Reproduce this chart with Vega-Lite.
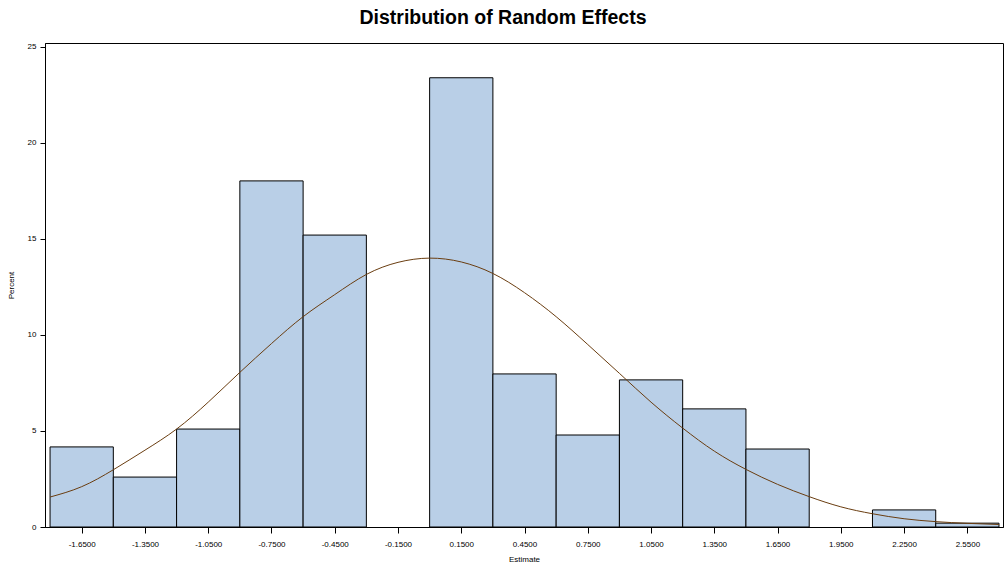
{
  "$schema": "https://vega.github.io/schema/vega-lite/v6.json",
  "autosize": {"type": "none"},
  "width": 958,
  "height": 484,
  "padding": {"left": 45, "top": 43, "right": 5, "bottom": 44},
  "background": "white",
  "config": {
    "view": {"stroke": "black", "strokeWidth": 1},
    "font": "Liberation Sans"
  },
  "title": {
    "text": "Distribution of Random Effects",
    "font": "Liberation Sans",
    "fontSize": 19.5,
    "fontWeight": "bold",
    "color": "black",
    "offset": 14,
    "dx": -21
  },
  "datasets": {
    "bins": [
      {"start": -1.8, "end": -1.5, "percent": 4.17},
      {"start": -1.5, "end": -1.2, "percent": 2.6},
      {"start": -1.2, "end": -0.9, "percent": 5.1},
      {"start": -0.9, "end": -0.6, "percent": 18.02},
      {"start": -0.6, "end": -0.3, "percent": 15.2},
      {"start": 0.0, "end": 0.3, "percent": 23.39},
      {"start": 0.3, "end": 0.6, "percent": 7.97},
      {"start": 0.6, "end": 0.9, "percent": 4.79},
      {"start": 0.9, "end": 1.2, "percent": 7.66},
      {"start": 1.2, "end": 1.5, "percent": 6.15},
      {"start": 1.5, "end": 1.8, "percent": 4.06},
      {"start": 2.1, "end": 2.4, "percent": 0.89},
      {"start": 2.4, "end": 2.7, "percent": 0.2}
    ],
    "curve": [
      {"x": -1.8, "y": 1.56},
      {"x": -1.65, "y": 2.1},
      {"x": -1.5, "y": 2.98},
      {"x": -1.35, "y": 4.0},
      {"x": -1.2, "y": 5.1},
      {"x": -1.05, "y": 6.5},
      {"x": -0.9, "y": 8.05},
      {"x": -0.75, "y": 9.55},
      {"x": -0.6, "y": 10.95},
      {"x": -0.45, "y": 12.1},
      {"x": -0.3, "y": 13.15},
      {"x": -0.15, "y": 13.78},
      {"x": 0.0, "y": 14.0},
      {"x": 0.15, "y": 13.8},
      {"x": 0.3, "y": 13.2},
      {"x": 0.45, "y": 12.2},
      {"x": 0.6, "y": 10.95},
      {"x": 0.75, "y": 9.5},
      {"x": 0.9, "y": 8.0},
      {"x": 1.05, "y": 6.5},
      {"x": 1.2, "y": 5.15},
      {"x": 1.35, "y": 3.95},
      {"x": 1.5, "y": 3.0},
      {"x": 1.65, "y": 2.22},
      {"x": 1.8, "y": 1.58},
      {"x": 1.95, "y": 1.05},
      {"x": 2.1, "y": 0.69},
      {"x": 2.25, "y": 0.43},
      {"x": 2.4, "y": 0.28},
      {"x": 2.55, "y": 0.19},
      {"x": 2.7, "y": 0.13}
    ]
  },
  "layer": [
    {
      "data": {"name": "bins"},
      "mark": {"type": "rect", "fill": "#B9CFE7", "stroke": "black", "strokeWidth": 1},
      "encoding": {
        "x": {
          "field": "start",
          "type": "quantitative",
          "scale": {"domain": [-1.824, 2.719], "nice": false, "zero": false},
          "axis": {
            "title": "Estimate",
            "values": [-1.65, -1.35, -1.05, -0.75, -0.45, -0.15, 0.15, 0.45, 0.75, 1.05, 1.35, 1.65, 1.95, 2.25, 2.55],
            "format": ".4f",
            "labelExpr": "replace(datum.label, '\u2212', '-')",
            "labelFont": "Liberation Sans",
            "labelFontSize": 8,
            "labelColor": "black",
            "labelPadding": 7,
            "titleFont": "Liberation Sans",
            "titleFontSize": 8,
            "titleFontWeight": "normal",
            "titleColor": "black",
            "titlePadding": 7,
            "tickColor": "black",
            "tickSize": 6,
            "domainColor": "black",
            "grid": false
          }
        },
        "x2": {"field": "end"},
        "y": {
          "field": "percent",
          "type": "quantitative",
          "scale": {"domain": [0, 25.2], "nice": false},
          "axis": {
            "title": "Percent",
            "values": [0, 5, 10, 15, 20, 25],
            "labelFont": "Liberation Sans",
            "labelFontSize": 8,
            "labelColor": "black",
            "labelPadding": 4,
            "titleFont": "Liberation Sans",
            "titleFontSize": 8,
            "titleFontWeight": "normal",
            "titleColor": "black",
            "titlePadding": 12,
            "tickColor": "black",
            "tickSize": 5,
            "domainColor": "black",
            "grid": false
          }
        },
        "y2": {"datum": 0}
      }
    },
    {
      "data": {"name": "curve"},
      "mark": {"type": "line", "color": "#6a3d10", "strokeWidth": 1, "interpolate": "natural"},
      "encoding": {
        "x": {"field": "x", "type": "quantitative"},
        "y": {"field": "y", "type": "quantitative"}
      }
    }
  ]
}
